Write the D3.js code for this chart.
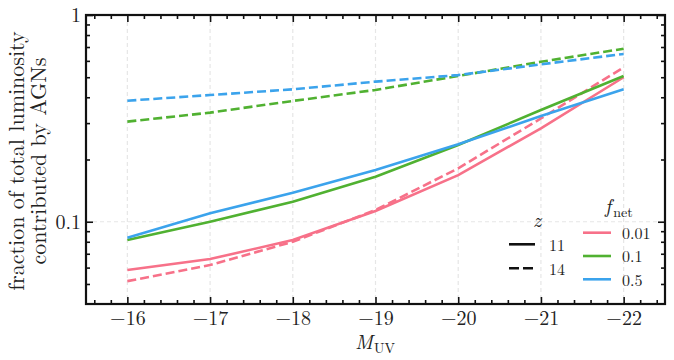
<!DOCTYPE html>
<html>
<head>
<meta charset="utf-8">
<script src="https://cdn.jsdelivr.net/npm/d3@7"></script>
<style>
  body { margin: 0; background: #fff; }
</style>
</head>
<body>
<div id="chart"></div>
<script>
// --- Data ---
const magnitudes = [-16, -17, -18, -19, -20, -21, -22];
const fnetLabels = ["0.01", "0.1", "0.5"];
const zLabels = ["11", "14"];
const xTicks = [-16, -17, -18, -19, -20, -21, -22];
const yTicks = [0.1, 1];

// fraction of luminosity from AGNs, z = 11 (solid)
const z11_f001 = [0.0584, 0.066, 0.0815, 0.1127, 0.168, 0.283, 0.500];
const z11_f01  = [0.0815, 0.100, 0.125, 0.165, 0.235, 0.347, 0.507];
const z11_f05  = [0.0837, 0.1098, 0.138, 0.178, 0.2368, 0.3246, 0.437];
// z = 14 (dashed)
const z14_f001 = [0.0516, 0.0617, 0.080, 0.1139, 0.1813, 0.316, 0.558];
const z14_f01  = [0.305, 0.337, 0.384, 0.434, 0.507, 0.594, 0.687];
const z14_f05  = [0.385, 0.410, 0.437, 0.476, 0.512, 0.577, 0.648];

const series = [
    { fnet: "0.01", z: "11", values: z11_f001 },
    { fnet: "0.01", z: "14", values: z14_f001 },
    { fnet: "0.1",  z: "11", values: z11_f01 },
    { fnet: "0.1",  z: "14", values: z14_f01 },
    { fnet: "0.5",  z: "11", values: z11_f05 },
    { fnet: "0.5",  z: "14", values: z14_f05 }
];

// --- Layout ---
const FONT = "'Latin Modern Roman', 'Liberation Serif', serif";
const W = 674, H = 360;
const margin = { top: 15, right: 9, bottom: 56, left: 86 };
const width = W - margin.left - margin.right,
      height = H - margin.top - margin.bottom;

const svg = d3.select("#chart").append("svg")
    .attr("width", W)
    .attr("height", H)
    .attr("font-family", FONT);

const g = svg.append("g")
    .attr("transform", `translate(${margin.left},${margin.top})`);

// Scales
const x = d3.scaleLinear().domain([-15.5, -22.5]).range([0, width]);
const y = d3.scaleLog().domain([0.04, 1]).range([height, 0]);

const color = d3.scaleOrdinal()
    .domain(fnetLabels)
    .range(["#f77189", "#50b131", "#3ba3ec"]);
const dash = d3.scaleOrdinal().domain(zLabels).range(["none", "9,4"]);

const xMinor = d3.range(-15.6, -22.5, -0.2).map(v => Math.round(v * 10) / 10)
    .filter(v => !xTicks.includes(v));
const yMinor = [0.05, 0.06, 0.07, 0.08, 0.09, 0.2, 0.3, 0.4, 0.5, 0.6, 0.7, 0.8, 0.9];

// Grid
g.append("g").selectAll("line")
    .data(xTicks).enter().append("line")
    .attr("x1", d => x(d)).attr("x2", d => x(d))
    .attr("y1", 0).attr("y2", height)
    .attr("stroke", "#e6e6e6").attr("stroke-width", 1.2)
    .attr("stroke-dasharray", "4,3");
g.append("g").selectAll("line")
    .data(yTicks).enter().append("line")
    .attr("x1", 0).attr("x2", width)
    .attr("y1", d => y(d)).attr("y2", d => y(d))
    .attr("stroke", "#e6e6e6").attr("stroke-width", 1.2)
    .attr("stroke-dasharray", "4,3");

// Lines
const line = d3.line()
    .x((d, i) => x(magnitudes[i]))
    .y(d => y(d));

g.append("g").selectAll("path")
    .data(series).enter().append("path")
    .attr("d", d => line(d.values))
    .attr("fill", "none")
    .attr("stroke", d => color(d.fnet))
    .attr("stroke-width", 2.6)
    .attr("stroke-dasharray", d => dash(d.z));

// Axes (ticks pointing inward on all four sides)
function styleAxis(sel) {
    sel.attr("font-family", FONT).attr("font-size", 20);
    sel.select(".domain").remove();
    sel.selectAll(".tick line").attr("stroke", "#111").attr("stroke-width", 1.6);
    sel.selectAll(".tick text").attr("fill", "#222");
}
const fmtX = d => "\u2212" + Math.abs(d);

g.append("g").attr("transform", `translate(0,${height})`)
    .call(d3.axisBottom(x).tickValues(xTicks).tickFormat(fmtX).tickSize(-7).tickPadding(7))
    .call(styleAxis);
g.append("g").attr("transform", `translate(0,${height})`)
    .call(d3.axisBottom(x).tickValues(xMinor).tickFormat("").tickSize(-4))
    .call(styleAxis);
g.append("g")
    .call(d3.axisTop(x).tickValues(xTicks).tickFormat("").tickSize(-7))
    .call(styleAxis);
g.append("g")
    .call(d3.axisTop(x).tickValues(xMinor).tickFormat("").tickSize(-4))
    .call(styleAxis);

g.append("g")
    .call(d3.axisLeft(y).tickValues(yTicks).tickFormat(d => d === 1 ? "1" : "0.1").tickSize(-7).tickPadding(5))
    .call(styleAxis);
g.append("g")
    .call(d3.axisLeft(y).tickValues(yMinor).tickFormat("").tickSize(-4))
    .call(styleAxis);
g.append("g").attr("transform", `translate(${width},0)`)
    .call(d3.axisRight(y).tickValues(yTicks).tickFormat("").tickSize(-7))
    .call(styleAxis);
g.append("g").attr("transform", `translate(${width},0)`)
    .call(d3.axisRight(y).tickValues(yMinor).tickFormat("").tickSize(-4))
    .call(styleAxis);

// Frame
g.append("rect")
    .attr("width", width).attr("height", height)
    .attr("fill", "none").attr("stroke", "#111").attr("stroke-width", 2.2);

// Axis labels
const xl = svg.append("text")
    .attr("x", 355)
    .attr("y", 348.5)
    .attr("fill", "#222")
    .attr("font-size", 20);
xl.append("tspan").attr("font-style", "italic").text("M");
xl.append("tspan").attr("font-size", 14).attr("dy", 4).attr("dx", 1).text("UV");

const yl = svg.append("text")
    .attr("transform", `translate(0,161) rotate(-90)`)
    .attr("text-anchor", "middle")
    .attr("fill", "#222")
    .attr("font-size", 22);
yl.append("tspan").attr("x", 0).attr("y", 24).text("fraction of total luminosity");
yl.append("tspan").attr("x", 0).attr("y", 46).text("contributed by AGNs");

// Legend: redshift (line style)
const legZ = svg.append("g").attr("transform", "translate(509,227)");
legZ.append("text")
    .attr("x", 24).attr("y", 0)
    .attr("fill", "#222")
    .attr("font-size", 20).attr("font-style", "italic")
    .text("z");
zLabels.forEach((label, i) => {
    const row = legZ.append("g").attr("transform", `translate(0,${17.3 + i * 24})`);
    row.append("line")
        .attr("x1", 0).attr("x2", 26)
        .attr("stroke", "#111").attr("stroke-width", 2.6)
        .attr("stroke-dasharray", i === 0 ? "none" : "10,4");
    row.append("text")
        .attr("x", 40).attr("y", 6.7)
        .attr("fill", "#222")
        .attr("font-size", 16)
        .text(label);
});

// Legend: f_net (colour)
const legF = svg.append("g").attr("transform", "translate(583,213)");
const ft = legF.append("text")
    .attr("x", 22).attr("y", 0)
    .attr("fill", "#222")
    .attr("font-size", 20);
ft.append("tspan").attr("font-style", "italic").text("f");
ft.append("tspan").attr("font-size", 14).attr("dy", 4).attr("dx", 2).text("net");
fnetLabels.forEach((label, i) => {
    const row = legF.append("g").attr("transform", `translate(0,${19.7 + i * 23.3})`);
    row.append("line")
        .attr("x1", 0).attr("x2", 28)
        .attr("stroke", color(label)).attr("stroke-width", 2.6);
    row.append("text")
        .attr("x", 39).attr("y", 6.3)
        .attr("fill", "#222")
        .attr("font-size", 16)
        .text(label);
});
</script>
</body>
</html>
